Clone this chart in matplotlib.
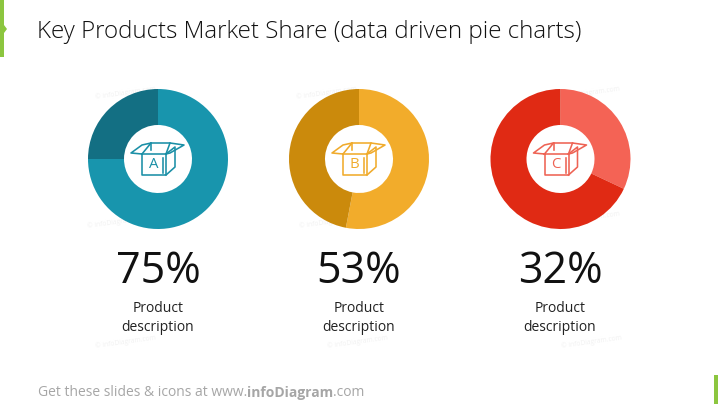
import matplotlib
matplotlib.use("Agg")
import matplotlib.pyplot as plt
from matplotlib.patches import Polygon

plt.rcParams['font.family'] = ['Open Sans', 'DejaVu Sans']

W, H = 718, 404

# chart data
products = ['A', 'B', 'C']
shares = [75, 53, 32]
share_labels = ['75%', '53%', '32%']
descriptions = ['Product\ndescription'] * 3

other_colors = ['#136f83', '#cb8a0c', '#e02a14']
first_colors = ['#1895ad', '#f2ac2b', '#f46355']
icon_colors = ['#1a8fa6', '#f0ab2c', '#ee6354']

# pie centres, pixels
centers = [(158, 159), (359, 159), (560.5, 159)]
radius = 70
hole = 34
text_x = [158, 359, 560]

fig = plt.figure(figsize=(W / 100, H / 100), dpi=100, facecolor='white')
bg = fig.add_axes([0, 0, 1, 1])
bg.set_xlim(0, W)
bg.set_ylim(H, 0)
bg.axis('off')

# green marks at slide edges
bg.add_patch(Polygon([(0, 0), (4, 0), (4, 25), (7, 29), (4, 33), (4, 57), (0, 57)], color='#8cc63f', lw=0))
bg.add_patch(Polygon([(714, 375), (718, 375), (718, 404), (714, 404)], color='#8cc63f', lw=0))

bg.text(37, 31.5, 'Key Products Market Share (data driven pie charts)', fontsize=17.4,
        color='#111111', va='center', ha='left', fontweight='light')

# faint watermarks
marks = [(126, 93), (327, 93), (590, 93), (118, 222), (330, 222), (590, 218),
         (126, 342), (358, 342), (592, 342)]
for mx, my in marks:
    bg.text(mx, my, '© infoDiagram.com', fontsize=4.8, color='#f1f1f1', rotation=8,
            ha='center', va='center')


def draw_box(ax, cx, cy, color):
    # open box icon, offsets from the pie centre
    parts = [
        [(-16, -5), (8, -5), (8, 16), (-16, 16), (-16, -5)],
        [(8, -5), (17, -12), (17, 8), (8, 16)],
        [(-16, -5), (-27, -6), (-16, -14), (-7, -16), (-16, -5)],
        [(-7, -16), (12, -16), (26, -14), (12, -6), (8, -5)],
        [(12, -16), (8, -5)],
        [(-7, -16), (-7, -9)],
        [(5, -1), (5, 14)],
    ]
    for part in parts:
        xs = [cx + p[0] for p in part]
        ys = [cy + p[1] for p in part]
        ax.plot(xs, ys, color=color, lw=1.15, solid_joinstyle='round')


for i, name in enumerate(products):
    cx, cy = centers[i]
    ax = fig.add_axes([(cx - radius) / W, 1 - (cy + radius) / H, 2 * radius / W, 2 * radius / H])
    ax.pie([shares[i], 100 - shares[i]], colors=[first_colors[i], other_colors[i]],
           startangle=90, counterclock=False, radius=1,
           wedgeprops=dict(width=1 - hole / radius, linewidth=0))
    ax.set_xlim(-1, 1)
    ax.set_ylim(-1, 1)

    top = fig.add_axes([0, 0, 1, 1])
    top.set_xlim(0, W)
    top.set_ylim(H, 0)
    top.axis('off')
    top.patch.set_alpha(0)
    draw_box(top, cx, cy, icon_colors[i])
    top.text(cx - 4.5, cy + 5.5, name, fontsize=10.8, color=icon_colors[i], ha='center', va='center')

    top.text(text_x[i], 272, share_labels[i], fontsize=31, color='#111111', ha='center', va='center')
    top.text(text_x[i], 318, descriptions[i], fontsize=10, color='#222222', ha='center', va='center',
             linespacing=1.32)

# footer, three runs placed one after the other
renderer = fig.canvas.get_renderer()
fx = 38
for run, weight in [('Get these slides & icons at www.', 'normal'), ('infoDiagram', 'bold'), ('.com', 'normal')]:
    t = bg.text(fx, 392.5, run, fontsize=10, color='#a6a6a6', va='center', ha='left', fontweight=weight)
    fx = t.get_window_extent(renderer).x1

fig.savefig('out.png', dpi=100, facecolor='white')
